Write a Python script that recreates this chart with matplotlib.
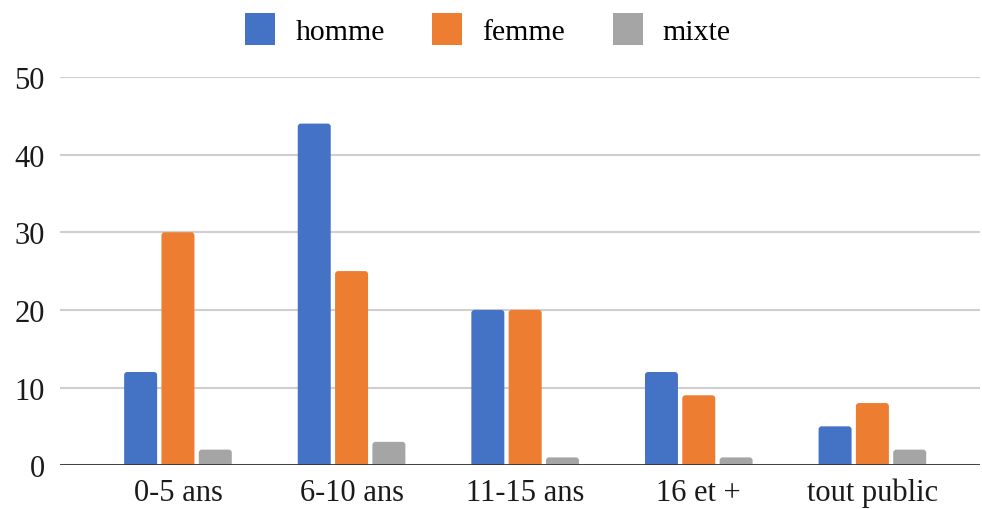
import matplotlib.pyplot as plt
from matplotlib.patches import FancyBboxPatch, Patch

categories = ['0-5 ans', '6-10 ans', '11-15 ans', '16 et +', 'tout public']
homme = [12, 44, 20, 12, 5]
femme = [30, 25, 20, 9, 8]
mixte = [2, 3, 1, 1, 2]
series = [('homme', homme, '#4472C4'), ('femme', femme, '#ED7D31'), ('mixte', mixte, '#A5A5A5')]

plt.rcParams['font.family'] = ['Liberation Serif', 'DejaVu Serif']

fig = plt.figure(figsize=(9.82, 5.1), dpi=100)
ax = fig.add_axes([0.061, 0.086, 0.937, 0.761])

ax.set_xlim(-0.68, 4.62)
ax.set_ylim(0, 50)

width = 0.19
offsets = [-0.215, 0, 0.215]
# px per unit, for rounded corners with equal radius in x and y
aspect = (1 / 7.76) / (1 / 173.5)
for (name, vals, col), off in zip(series, offsets):
    for i, v in enumerate(vals):
        p = FancyBboxPatch((i + off - width / 2, -1), width, v + 1,
                           boxstyle='round,pad=0,rounding_size=0.018',
                           mutation_aspect=aspect, fc=col, ec='none', zorder=3)
        ax.add_patch(p)

ax.set_yticks(range(0, 51, 10))
ax.yaxis.grid(True, color='#CFCFCF', lw=1.5, zorder=0)
ax.axhline(0, color='#333333', lw=2, zorder=4)
ax.set_xticks(range(len(categories)))
ax.set_xticklabels(categories)
ax.tick_params(axis='both', length=0, labelsize=22, colors='#1a1a1a')
ax.tick_params(axis='x', pad=9)
ax.tick_params(axis='y', pad=11)
for s in ax.spines.values():
    s.set_visible(False)

handles = [Patch(fc=c, ec='none', label=n) for n, _, c in series]
fig.legend(handles=handles, loc='upper center', bbox_to_anchor=(0.497, 1.025), ncol=3,
           frameon=False, fontsize=21.5, handlelength=1.0, handleheight=1.25,
           handletextpad=0.67, columnspacing=1.6)

plt.savefig('out.png')
